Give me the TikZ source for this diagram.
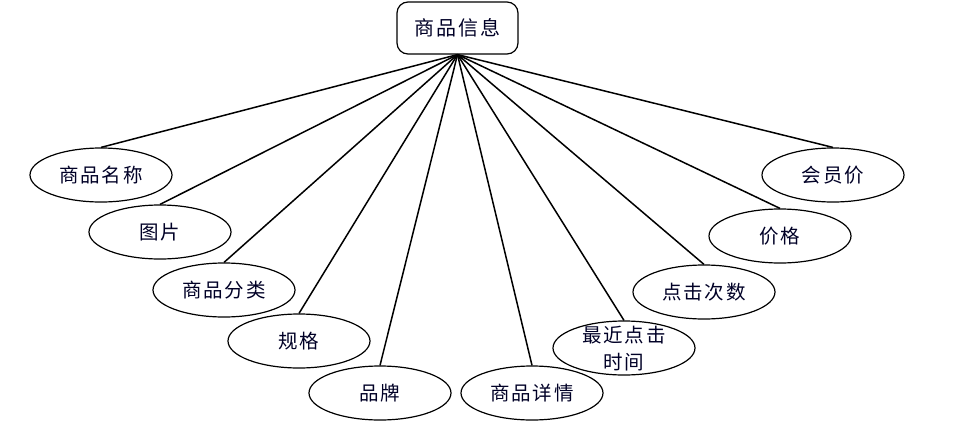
\documentclass[tikz,border=0pt]{standalone}
\usepackage{fontspec}
\newfontfamily\cjk[LetterSpace=10]{Noto Sans CJK SC}
\usetikzlibrary{shapes.geometric}
\tikzset{
  attr/.style={draw=black, line width=1.2pt, ellipse, minimum width=142pt, minimum height=54pt, inner sep=0pt, font=\cjk\fontsize{19.5}{22}\selectfont, text=black!85!blue, align=center},
  entity/.style={draw=black, line width=1.2pt, rounded corners=11pt, minimum width=121pt, minimum height=52pt, inner sep=0pt, font=\cjk\fontsize{20}{22}\selectfont, text=black!85!blue},
  link/.style={draw=black, line width=1.5pt}
}
\begin{document}
\begin{tikzpicture}[x=1pt, y=-1pt]
\useasboundingbox (0,0) rectangle (956,442);
\node[entity] (top) at (457.5,28) {商品信息};
\node[attr] (a1) at (101,175) {商品名称};
\node[attr] (a2) at (160,232) {图片};
\node[attr] (a3) at (224,290) {商品分类};
\node[attr] (a4) at (299,341) {规格};
\node[attr] (a5) at (380,393) {品牌};
\node[attr] (a6) at (532,393) {商品详情};
\node[attr] (a7) at (624,348) {};
\node[font=\cjk\fontsize{19.5}{27}\selectfont, text=black!85!blue, align=center, inner sep=0pt] (a7t) at (624,349) {最近点击\\时间};
\node[attr] (a8) at (704,292) {点击次数};
\node[attr] (a9) at (780,236) {价格};
\node[attr] (a10) at (833,175) {会员价};
\foreach \n in {a1,a2,a3,a4,a5,a6,a7,a8,a9,a10}
  \draw[link] (top.south) -- (\n.north);
\end{tikzpicture}
\end{document}
